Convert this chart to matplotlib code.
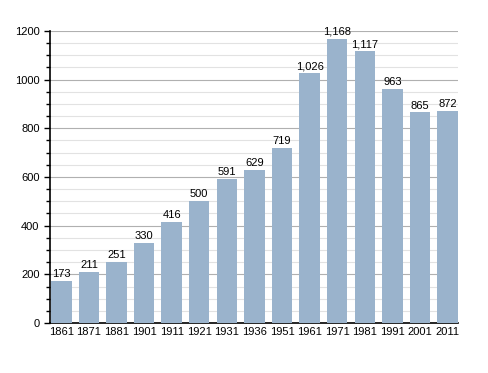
import matplotlib
matplotlib.use("Agg")
import matplotlib.pyplot as plt
import numpy as np
from matplotlib.ticker import MultipleLocator

# ── data ──────────────────────────────────────────────────────────────────────
years  = ["1861", "1871", "1881", "1901", "1911", "1921", "1931", "1936",
          "1951", "1961", "1971", "1981", "1991", "2001", "2011"]
pop    = [173, 211, 251, 330, 416, 500, 591, 629, 719, 1026, 1168, 1117, 963, 865, 872]

# ── plot ──────────────────────────────────────────────────────────────────────
plt.rcParams["font.family"] = ["Liberation Sans", "DejaVu Sans"]

fig = plt.figure(figsize=(4.88, 3.73), dpi=100)
ax = fig.add_axes([0.1025, 0.134, 0.836, 0.783])

x = np.arange(len(years))
ax.bar(x, pop, width=0.74, color="#9ab3cc", zorder=3)

for xi, v in zip(x, pop):
    ax.text(xi, v + 8, f"{v:,}", ha="center", va="bottom", fontsize=8, zorder=4)

ax.set_xlim(-0.41, len(years) - 0.62)
ax.set_ylim(0, 1200)
ax.set_xticks(x)
ax.set_xticklabels(years, fontsize=8)
ax.yaxis.set_major_locator(MultipleLocator(200))
ax.yaxis.set_minor_locator(MultipleLocator(50))
ax.tick_params(axis="y", labelsize=8, length=4, width=1)
ax.tick_params(axis="y", which="minor", length=3, width=1)
ax.tick_params(axis="x", length=0, pad=3)

ax.grid(axis="y", which="major", color="#b0b0b0", lw=0.8, zorder=0)
ax.grid(axis="y", which="minor", color="#e2e2e2", lw=0.8, zorder=0)

for s in ["top", "right"]:
    ax.spines[s].set_visible(False)
ax.spines["left"].set_linewidth(1.2)
ax.spines["bottom"].set_linewidth(1.2)

fig.savefig("out.png", dpi=100)
